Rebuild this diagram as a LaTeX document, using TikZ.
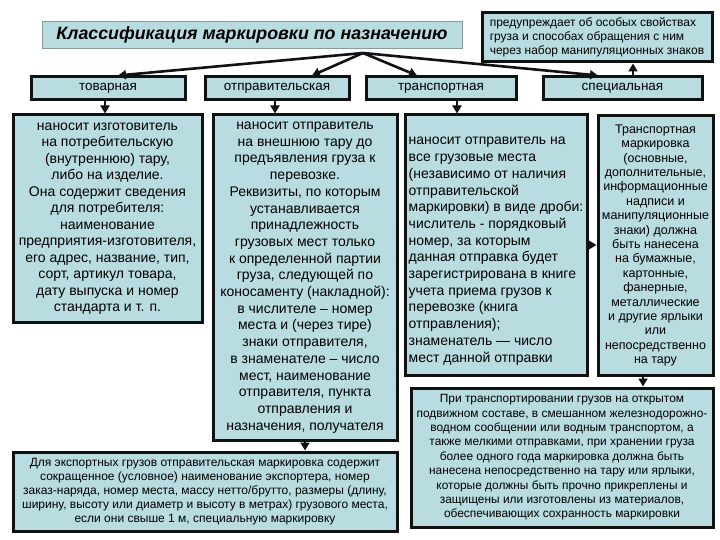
\documentclass[tikz,border=0pt]{standalone}
\usepackage{fontspec}
\setmainfont{Liberation Sans}
\usepackage{tikz}
\usetikzlibrary{arrows.meta}
\definecolor{boxfill}{HTML}{B8DCE0}
\definecolor{frame}{HTML}{111111}
\definecolor{titleframe}{HTML}{8A9A9C}
\tikzset{
  box/.style={draw=frame, fill=boxfill, line width=3pt, inner sep=0pt, align=center},
  catbox/.style={box, minimum height=23pt, font=\fontsize{13.5}{15}\selectfont},
  arr/.style={draw=frame, line width=2.6pt, -{Triangle[length=8pt,width=9pt]}},
}

\begin{document}
\begin{tikzpicture}[x=1pt,y=-1pt]
  \useasboundingbox (0,0) rectangle (720,540);
  \node[draw=titleframe, fill=boxfill, line width=0.8pt, minimum width=420pt, minimum height=27pt,
        font=\fontsize{17.8}{20}\selectfont\bfseries\itshape] (title) at (252,34.5)
        {Классификация маркировки по назначению};
  \node[box, align=left, minimum width=230pt, minimum height=49pt, font=\fontsize{12}{14}\selectfont] (warn) at (597,37.5)
        {предупреждает об особых свойствах\\груза и способах обращения с ним\\через набор манипуляционных знаков};

  \node[catbox, minimum width=154pt] (tov) at (108,88.5) {товарная};
  \node[catbox, minimum width=144pt] (otp) at (277,88.5) {отправительская};
  \node[catbox, minimum width=150pt] (tr) at (441,88.5) {транспортная};
  \node[catbox, minimum width=159pt] (sp) at (622.5,88.5) {специальная};

  \node[box, minimum width=189pt, minimum height=207pt, font=\fontsize{14}{16.5}\selectfont] (c1) at (107.5,218.5)
        {наносит изготовитель\\на потребительскую\\(внутреннюю) тару,\\либо на изделие.\\Она содержит сведения\\для потребителя:\\наименование\\предприятия-изготовителя,\\его адрес, название, тип,\\сорт, артикул товара,\\дату выпуска и номер\\стандарта и т. п.};
  \node[box, minimum width=184pt, minimum height=325pt, font=\fontsize{14}{16.7}\selectfont] (c2) at (305,277.5)
        {наносит отправитель\\на внешнюю тару до\\предъявления груза к\\перевозке.\\Реквизиты, по которым\\устанавливается\\принадлежность\\грузовых мест только\\к определенной партии\\груза, следующей по\\коносаменту (накладной):\\в числителе – номер\\места и (через тире)\\знаки отправителя,\\в знаменателе – число\\мест, наименование\\отправителя, пункта\\отправления и\\назначения, получателя};
  \node[box, align=left, minimum width=182pt, minimum height=260pt, font=\fontsize{14}{16.7}\selectfont] (c3) at (496,245)
        {\rule{0pt}{20pt}наносит отправитель на\\все грузовые места\\(независимо от наличия\\отправительской\\маркировки) в виде дроби:\\числитель - порядковый\\номер, за которым\\данная отправка будет\\зарегистрирована в книге\\учета приема грузов к\\перевозке (книга\\отправления);\\знаменатель — число\\мест данной отправки};
  \node[box, minimum width=115pt, minimum height=259pt, font=\fontsize{12.5}{14.4}\selectfont] (c4) at (655.5,245.5)
        {Транспортная\\маркировка\\(основные,\\дополнительные,\\информационные\\надписи и\\манипуляционные\\знаки) должна\\быть нанесена\\на бумажные,\\картонные,\\фанерные,\\металлические\\и другие ярлыки\\или\\непосредственно\\на тару};

  \node[box, minimum width=384pt, minimum height=79pt, font=\fontsize{12}{14}\selectfont] (exp) at (205,491.5)
        {Для экспортных грузов отправительская маркировка содержит\\сокращенное (условное) наименование экспортера, номер\\заказ-наряда, номер места, массу нетто/брутто, размеры (длину,\\ширину, высоту или диаметр и высоту в метрах) грузового места,\\если они свыше 1 м, специальную маркировку};
  \node[box, minimum width=302pt, minimum height=139pt, font=\fontsize{11.9}{14.4}\selectfont] (tb) at (562,457.5)
        {При транспортировании грузов на открытом\\подвижном составе, в смешанном железнодорожно-\\водном сообщении или водным транспортом, а\\также мелкими отправками, при хранении груза\\более одного года маркировка должна быть\\нанесена непосредственно на тару или ярлыки,\\которые должны быть прочно прикреплены и\\защищены или изготовлены из материалов,\\обеспечивающих сохранность маркировки};

  \coordinate (hub) at (363,53);
  \draw[arr] (hub) -- ([xshift=10pt]tov.north);
  \draw[arr] (hub) -- ([xshift=35pt]otp.north);
  \draw[arr] (hub) -- ([xshift=-24pt]tr.north);
  \draw[arr] (hub) -- ([xshift=-24.5pt]sp.north);
  \draw[arr] ([xshift=10.5pt]sp.north) -- ([xshift=10.5pt]sp.north |- warn.south);

  \draw[arr] ([xshift=-3pt]tov.south) -- ([xshift=-3pt]tov.south |- c1.north);
  \draw[arr] ([xshift=-2pt]otp.south) -- ([xshift=-2pt]otp.south |- c2.north);
  \draw[arr] ([xshift=16pt]tr.south) -- ([xshift=16pt]tr.south |- c3.north);
  \draw[arr] (c3.east) -- (c3.east -| c4.west);
  \draw[arr] (c2.south) -- (c2.south |- exp.north);
  \draw[arr] ([xshift=-12.5pt]c4.south) -- ([xshift=-12.5pt]c4.south |- tb.north);
\end{tikzpicture}
\end{document}
